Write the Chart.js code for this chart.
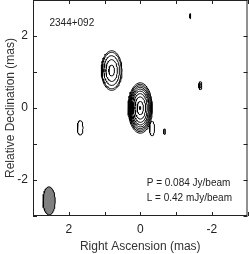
<!DOCTYPE html>
<html>
<head>
<meta charset="utf-8">
<script src="https://cdn.jsdelivr.net/npm/chart.js@4/dist/chart.umd.min.js"></script>
<style>
  html, body { margin: 0; padding: 0; background: #fff; }
  #wrap { width: 249px; height: 254px; position: relative; }
</style>
</head>
<body>
<div id="wrap"><canvas id="map"></canvas></div>
<script>
// 2344+092 VLBI map: contours of each component (elliptical fits)

const sourceName = '2344+092';
const peakLabel = 'P = 0.084 Jy/beam';
const lowestLabel = 'L = 0.42 mJy/beam';

// component centres (mas), semi-axes (mas) and contour levels (fraction of outer size)
const compX = [0, 0.8, 1.68, -0.33, -0.68, -1.68, -1.4];
const compY = [0, 1.04, -0.55, -0.57, -0.66, 0.62, 2.55];
const compA = [0.34, 0.29, 0.08, 0.07, 0.025, 0.045, 0.015];
const compB = [0.70, 0.55, 0.20, 0.20, 0.08, 0.11, 0.07];
const compLevels = [
  [1, 0.94, 0.88, 0.82, 0.75, 0.67, 0.57, 0.44, 0.26, 0.06],
  [1, 0.92, 0.75, 0.55, 0.27],
  [1],
  [1],
  [1],
  [1, 0.55],
  [1],
];

// restoring beam
const beamX = 2.55, beamY = -2.58, beamA = 0.17, beamB = 0.39;

const axisTicks = [-3, -2, -1, 0, 1, 2, 3];

function ellipse(cx, cy, a, b) {
  const pts = [];
  for (let i = 0; i <= 64; i++) {
    const t = (i / 64) * Math.PI * 2;
    pts.push({ x: cx + a * Math.sin(t), y: cy + b * Math.cos(t) });
  }
  return pts;
}

const datasets = [];
compX.forEach((cx, i) => {
  compLevels[i].forEach(f => {
    datasets.push({
      data: ellipse(cx, compY[i], compA[i] * f, compB[i] * f),
      showLine: true, borderColor: '#000', borderWidth: 1,
      pointRadius: 0, tension: 0, fill: false,
    });
  });
});
datasets.push({
  data: ellipse(beamX, beamY, beamA, beamB),
  showLine: true, borderColor: '#000', borderWidth: 1,
  backgroundColor: '#808080', fill: 'shape',
  pointRadius: 0, tension: 0,
});

// frame, inward ticks and text labels
const framePlugin = {
  id: 'frame',
  afterDraw(chart) {
    const { ctx, chartArea: ca, scales: { x, y } } = chart;
    ctx.save();
    ctx.strokeStyle = '#222';
    ctx.lineWidth = 1;
    ctx.strokeRect(ca.left + 0.5, ca.top + 0.5, ca.right - ca.left - 1, ca.bottom - ca.top - 1);
    const tl = 4;
    ctx.beginPath();
    axisTicks.forEach(v => {
      const px = Math.round(x.getPixelForValue(v)) + 0.5;
      const py = Math.round(y.getPixelForValue(v)) + 0.5;
      ctx.moveTo(px, ca.bottom); ctx.lineTo(px, ca.bottom - tl);
      ctx.moveTo(px, ca.top); ctx.lineTo(px, ca.top + tl);
      ctx.moveTo(ca.left, py); ctx.lineTo(ca.left + tl, py);
      ctx.moveTo(ca.right, py); ctx.lineTo(ca.right - tl, py);
    });
    ctx.stroke();

    ctx.fillStyle = '#222';
    ctx.font = '10px "Liberation Sans", Arial, sans-serif';
    ctx.textBaseline = 'middle';
    ctx.textAlign = 'left';
    ctx.fillText(sourceName, x.getPixelForValue(2.54), y.getPixelForValue(2.35));
    ctx.fillText(peakLabel, x.getPixelForValue(-0.18), y.getPixelForValue(-2.09));
    ctx.fillText(lowestLabel, x.getPixelForValue(-0.18), y.getPixelForValue(-2.5));
    ctx.restore();
  },
};

const font = { family: '"Liberation Sans", Arial, sans-serif', size: 12 };
const noGrid = { display: false, drawTicks: false, tickLength: 0 };

new Chart(document.getElementById('map'), {
  type: 'scatter',
  data: { datasets },
  options: {
    responsive: true,
    maintainAspectRatio: false,
    animation: false,
    events: [],
    layout: { padding: { top: 0, right: 1.5, bottom: 0, left: 0 } },
    plugins: { legend: { display: false }, tooltip: { enabled: false } },
    scales: {
      x: {
        type: 'linear', min: -3, max: 3, reverse: true,
        grid: noGrid,
        border: { display: false },
        afterFit: s => { s.height = 38; s.paddingLeft = 0; s.paddingRight = 0; },
        ticks: {
          stepSize: 1, padding: 6, color: '#222', font, maxRotation: 0,
          autoSkip: false,
          callback: v => (v % 2 === 0 && Math.abs(v) < 3 ? String(v) : ''),
        },
        title: { display: true, text: 'Right Ascension (mas)', color: '#333', font, padding: { top: 0, bottom: 0 } },
      },
      y: {
        type: 'linear', min: -3, max: 3,
        grid: noGrid,
        border: { display: false },
        afterFit: s => { s.width = 33; s.paddingTop = 0; s.paddingBottom = 0; },
        ticks: {
          stepSize: 1, padding: 5, color: '#222', font,
          autoSkip: false,
          callback: v => (v % 2 === 0 && Math.abs(v) < 3 ? String(v) : ''),
        },
        title: { display: true, text: 'Relative Declination (mas)', color: '#333', font, padding: { top: 3, bottom: 0 } },
      },
    },
  },
  plugins: [framePlugin],
});
</script>
</body>
</html>
